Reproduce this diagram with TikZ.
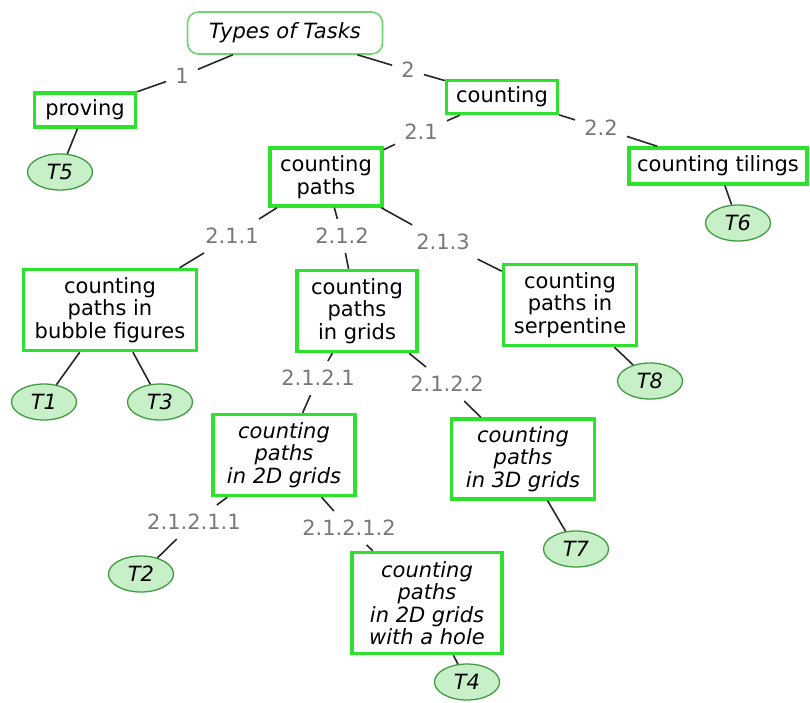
\documentclass[tikz,border=0pt]{standalone}
\usepackage{fontspec}
\setmainfont{DejaVu Sans}
\usepackage{tikz}
\usetikzlibrary{shapes}

\definecolor{boxgreen}{RGB}{45,225,45}
\definecolor{rootgreen}{RGB}{110,215,110}
\definecolor{leafgreen}{RGB}{200,240,200}
\definecolor{leafline}{RGB}{65,155,65}
\definecolor{numgray}{RGB}{120,120,120}

\newcommand{\mapfont}{\fontsize{21}{22.5}\selectfont}

\tikzset{
	task/.style={draw=boxgreen, line width=3.5pt, align=center, inner sep=1pt, font=\mapfont},
	itask/.style={task, font=\mapfont\itshape},
	root/.style={draw=rootgreen, line width=1.6pt, rounded corners=11pt, font=\mapfont\itshape},
	leaf/.style={ellipse, draw=leafline, fill=leafgreen, line width=1.3pt, inner sep=0pt,
		minimum width=65, minimum height=36, font=\mapfont\itshape},
	num/.style={text=numgray, inner sep=9pt, font=\mapfont},
	link/.style={line width=1.6pt, draw=black!85}
}

\begin{document}
\begin{tikzpicture}[x=1pt,y=-1pt]
		\useasboundingbox (0,0) rectangle (810,702);
		% boxes
		\node[root, minimum width=195, minimum height=42] (types) at (285,33) {Types of Tasks};
		\node[task, minimum width=101, minimum height=34] (proving) at (85,110) {proving};
		\node[task, minimum width=111, minimum height=33] (counting) at (502,97) {counting};
		\node[task, minimum width=112, minimum height=58] (paths) at (326,177) {counting\\paths};
		\node[task, minimum width=178, minimum height=36] (tilings) at (718,166) {counting tilings};
		\node[task, minimum width=173, minimum height=81] (bubble) at (110,310) {counting\\paths in\\bubble figures};
		\node[task, minimum width=120, minimum height=81] (grids) at (357,311) {counting\\paths\\in grids};
		\node[task, minimum width=133, minimum height=81] (serp) at (570,305) {counting\\paths in\\serpentine};
		\node[itask, minimum width=142, minimum height=81] (twod) at (284,455) {counting\\paths\\in 2D grids};
		\node[itask, minimum width=143, minimum height=80] (threed) at (523,459) {counting\\paths\\in 3D grids};
		\node[itask, minimum width=150, minimum height=101] (hole) at (427,603) {counting\\paths\\in 2D grids\\with a hole};
		% tasks
		\node[leaf] (t5) at (60,172) {T5};
		\node[leaf] (t6) at (738,223) {T6};
		\node[leaf] (t1) at (44,402) {T1};
		\node[leaf] (t3) at (160,402) {T3};
		\node[leaf] (t8) at (650,381) {T8};
		\node[leaf] (t7) at (576,549) {T7};
		\node[leaf] (t2) at (141,574) {T2};
		\node[leaf] (t4) at (467,682) {T4};
		% numbers
		\node[num] (n1) at (182,76) {1};
		\node[num] (n2) at (408,70) {2};
		\node[num] (n21) at (421,132) {2.1};
		\node[num] (n22) at (601,128) {2.2};
		\node[num] (n211) at (232,236) {2.1.1};
		\node[num] (n212) at (342,236) {2.1.2};
		\node[num] (n213) at (443,242) {2.1.3};
		\node[num] (n2121) at (318,378) {2.1.2.1};
		\node[num] (n2122) at (447,384) {2.1.2.2};
		\node[num] (n21211) at (194,522) {2.1.2.1.1};
		\node[num] (n21212) at (349,528) {2.1.2.1.2};
		% links
		\draw[link] (types) -- (n1) -- (proving);
		\draw[link] (proving) -- (t5);
		\draw[link] (types) -- (n2) -- (counting);
		\draw[link] (counting) -- (n21) -- (paths);
		\draw[link] (counting) -- (n22) -- (tilings);
		\draw[link] (tilings) -- (t6);
		\draw[link] (paths) -- (n211) -- (bubble);
		\draw[link] (paths) -- (n212) -- (grids);
		\draw[link] (paths) -- (n213) -- (serp);
		\draw[link] (bubble) -- (t1);
		\draw[link] (bubble) -- (t3);
		\draw[link] (serp) -- (t8);
		\draw[link] (grids) -- (n2121) -- (twod);
		\draw[link] (grids) -- (n2122) -- (threed);
		\draw[link] (threed) -- (t7);
		\draw[link] (twod) -- (n21211) -- (t2);
		\draw[link] (twod) -- (n21212) -- (hole);
		\draw[link] (hole) -- (t4);
	\end{tikzpicture}
\end{document}
